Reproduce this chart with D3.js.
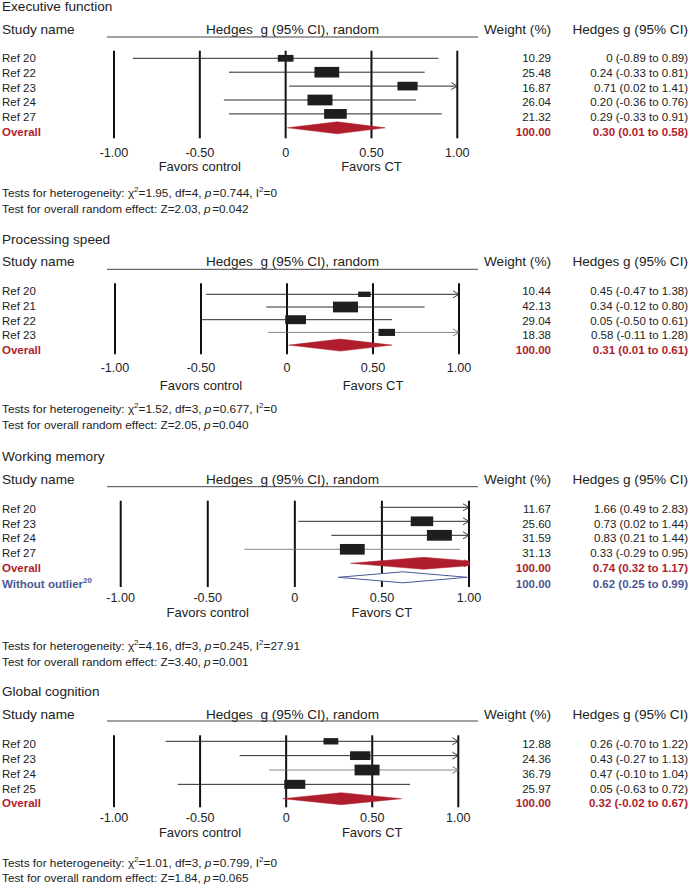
<!DOCTYPE html>
<html><head><meta charset="utf-8">
<script src="https://cdn.jsdelivr.net/npm/d3@7"></script>
<style>
html,body{margin:0;padding:0;background:#fff;}
svg{display:block;font-family:"Liberation Sans",Arial,Helvetica,sans-serif;}
</style></head>
<body>
<svg id="chart" width="690" height="886"></svg>
<script>
// ---------------- DATA ----------------
const panelTitles = ["Executive function", "Processing speed", "Working memory", "Global cognition"];

const efStudies = ["Ref 20", "Ref 22", "Ref 23", "Ref 24", "Ref 27"];
const efWeight  = [10.29, 25.48, 16.87, 26.04, 21.32];
const efG       = [0, 0.24, 0.71, 0.20, 0.29];
const efLo      = [-0.89, -0.33, 0.02, -0.36, -0.33];
const efHi      = [0.89, 0.81, 1.41, 0.76, 0.91];

const psStudies = ["Ref 20", "Ref 21", "Ref 22", "Ref 23"];
const psWeight  = [10.44, 42.13, 29.04, 18.38];
const psG       = [0.45, 0.34, 0.05, 0.58];
const psLo      = [-0.47, -0.12, -0.50, -0.11];
const psHi      = [1.38, 0.80, 0.61, 1.28];

const wmStudies = ["Ref 20", "Ref 23", "Ref 24", "Ref 27"];
const wmWeight  = [11.67, 25.60, 31.59, 31.13];
const wmG       = [1.66, 0.73, 0.83, 0.33];
const wmLo      = [0.49, 0.02, 0.21, -0.29];
const wmHi      = [2.83, 1.44, 1.44, 0.95];

const gcStudies = ["Ref 20", "Ref 23", "Ref 24", "Ref 25"];
const gcWeight  = [12.88, 24.36, 36.79, 25.97];
const gcG       = [0.26, 0.43, 0.47, 0.05];
const gcLo      = [-0.70, -0.27, -0.10, -0.63];
const gcHi      = [1.22, 1.13, 1.04, 0.72];

const overallG  = [0.30, 0.31, 0.74, 0.32];
const overallLo = [0.01, 0.01, 0.32, -0.02];
const overallHi = [0.58, 0.61, 1.17, 0.67];

const outlierG = 0.62, outlierLo = 0.25, outlierHi = 0.99, outlierWeight = 100.00;

const hetChi2 = ["1.95", "1.52", "4.16", "1.01"];
const hetDf   = ["4", "3", "3", "3"];
const hetP    = ["0.744", "0.677", "0.245", "0.799"];
const hetI2   = ["0", "0", "27.91", "0"];
const effZ    = ["2.03", "2.05", "3.40", "1.84"];
const effP    = ["0.042", "0.040", "0.001", "0.065"];

const tickValues = [-1, -0.5, 0, 0.5, 1];
const tickLabels = ["-1.00", "-0.50", "0", "0.50", "1.00"];

// ---------------- LAYOUT ----------------
const RED = "#b01e2d", BLUE = "#4a5896", INK = "#222";
const FONT_HEAD = 13.6, FONT_ROW = 11.5, FONT_TICK = 12.6, FONT_TEST = 11.8;

const layout = [
  {title:6,   header:29.3, hline:37,    lab:[58, 14.8],    mark:[58.3, 13.9],  vTop:50.7,  vBot:138.3, tickY:152.7, favY:166.7, testY:[192.7, 209.3], xr:[114, 457.3], light:[]},
  {title:239.3, header:261.7, hline:269.3, lab:[291, 14.75], mark:[294.3, 12.7], vTop:283.3, vBot:354.3, tickY:368.3, favY:385,   testY:[408.5, 425],  xr:[115, 459], light:[3]},
  {title:456, header:479,  hline:486.7, lab:[508.7, 14.8], mark:[507.3, 14],   vTop:500.7, vBot:587,   tickY:598.3, favY:612.3, testY:[646, 661.5],  xr:[120.7, 469], light:[3]},
  {title:691.7, header:714, hline:721,  lab:[744.3, 14.75], mark:[741.3, 14.35], vTop:735.3, vBot:807.3, tickY:817.7, favY:832.7, testY:[863.3, 878.3], xr:[114, 458.3], light:[2]}
];

const panels = [
  {studies: efStudies, w: efWeight, g: efG, lo: efLo, hi: efHi},
  {studies: psStudies, w: psWeight, g: psG, lo: psLo, hi: psHi},
  {studies: wmStudies, w: wmWeight, g: wmG, lo: wmLo, hi: wmHi},
  {studies: gcStudies, w: gcWeight, g: gcG, lo: gcLo, hi: gcHi}
];

const svg = d3.select("#chart");
const fmt = v => v === 0 ? "0" : v.toFixed(2);
const ciText = (g, lo, hi) => `${fmt(g)} (${fmt(lo)} to ${fmt(hi)})`;

function txt(g, x, y, s, opts = {}) {
  const t = g.append("text").attr("x", x).attr("y", y)
    .attr("dominant-baseline", "central")
    .attr("font-size", opts.size || FONT_ROW)
    .attr("fill", opts.fill || INK)
    .attr("text-anchor", opts.anchor || "start")
    .text(s);
  if (opts.bold) t.attr("font-weight", "bold");
  if (opts.pre) t.style("white-space", "pre");
  return t;
}

function chevron(g, x, y, color) {
  g.append("path")
    .attr("d", `M${x - 6},${y - 3.5}L${x},${y}L${x - 6},${y + 3.5}`)
    .attr("fill", "none").attr("stroke", color).attr("stroke-width", 0.9);
}

panels.forEach((p, pi) => {
  const L = layout[pi];
  const g = svg.append("g");
  const x = d3.scaleLinear().domain([-1, 1]).range(L.xr);
  const n = p.studies.length;
  const labY = d3.scaleLinear().domain([0, 1]).range([L.lab[0], L.lab[0] + L.lab[1]]);
  const markY = d3.scaleLinear().domain([0, 1]).range([L.mark[0], L.mark[0] + L.mark[1]]);
  const maxW = d3.max(p.w);
  const boxW = d3.scaleSqrt().domain([0, maxW]).range([0, 25]);

  // Title & headers
  txt(g, 2, L.title, panelTitles[pi], {size: FONT_HEAD});
  txt(g, 2, L.header, "Study name", {size: FONT_HEAD});
  g.append("line").attr("x1", 107).attr("x2", 478).attr("y1", L.hline).attr("y2", L.hline)
    .attr("stroke", "#444").attr("stroke-width", 1);
  txt(g, 292.5, L.header, "Hedges  g (95% CI), random", {size: FONT_HEAD, anchor: "middle", pre: true});
  txt(g, 551, L.header, "Weight (%)", {size: FONT_HEAD, anchor: "end"});
  txt(g, 688, L.header, "Hedges g (95% CI)", {size: FONT_HEAD, anchor: "end"});

  // vertical reference lines
  g.selectAll("line.ref").data(tickValues).join("line")
    .attr("class", "ref")
    .attr("x1", d => x(d)).attr("x2", d => x(d))
    .attr("y1", L.vTop).attr("y2", L.vBot)
    .attr("stroke", "#111").attr("stroke-width", 2);

  // tick labels
  tickValues.forEach((t, i) => txt(g, x(t), L.tickY, tickLabels[i], {size: FONT_TICK, anchor: "middle"}));
  txt(g, x(-0.5), L.favY, "Favors control", {size: 13, anchor: "middle"});
  txt(g, x(0.5), L.favY, "Favors CT", {size: 13, anchor: "middle"});

  // studies
  p.studies.forEach((s, i) => {
    const yl = labY(i), ym = markY(i);
    const lineCol = L.light.includes(i) ? "#6a6a6a" : "#2a2a2a";
    const lineW = L.light.includes(i) ? 0.8 : 1;
    txt(g, 2, yl, s, {size: FONT_ROW});
    txt(g, 551, yl, p.w[i].toFixed(2), {size: FONT_ROW, anchor: "end"});
    txt(g, 688, yl, ciText(p.g[i], p.lo[i], p.hi[i]), {size: FONT_ROW, anchor: "end"});
    const a = Math.max(p.lo[i], -1), b = Math.min(p.hi[i], 1);
    g.append("line").attr("x1", x(a)).attr("x2", x(b)).attr("y1", ym).attr("y2", ym)
      .attr("stroke", lineCol).attr("stroke-width", lineW);
    if (p.hi[i] > 1) chevron(g, x(1), ym, lineCol);
    if (p.g[i] >= -1 && p.g[i] <= 1) {
      const bw = boxW(p.w[i]), bh = bw * 0.43;
      g.append("rect").attr("x", x(p.g[i]) - bw / 2).attr("y", ym - bh / 2)
        .attr("width", bw).attr("height", bh).attr("fill", "#1e1e1e");
    }
  });

  // overall
  const yo = labY(n), ymo = markY(n), hh = 6;
  txt(g, 2, yo, "Overall", {size: FONT_ROW, bold: true, fill: RED});
  txt(g, 551, yo, "100.00", {size: FONT_ROW, bold: true, fill: RED, anchor: "end"});
  txt(g, 688, yo, ciText(overallG[pi], overallLo[pi], overallHi[pi]), {size: FONT_ROW, bold: true, fill: RED, anchor: "end"});
  const og = overallG[pi], ol = overallLo[pi], oh = overallHi[pi];
  let pts;
  if (oh > 1) {
    const f = (oh - 1) / (oh - og);
    pts = [[x(ol), ymo], [x(og), ymo - hh], [x(1), ymo - hh * f], [x(1), ymo + hh * f], [x(og), ymo + hh]];
  } else {
    pts = [[x(ol), ymo], [x(og), ymo - hh], [x(oh), ymo], [x(og), ymo + hh]];
  }
  g.append("polygon").attr("points", pts.map(d => d.join(",")).join(" "))
    .attr("fill", RED).attr("stroke", RED).attr("stroke-width", 0.5);
  if (oh > 1) chevron(g, x(1) + 1, ymo, RED);

  if (pi === 2) {
    const yw = 584.3, ymw = markY(n + 1);
    const t = txt(g, 2, yw, "Without outlier", {size: FONT_ROW, bold: true, fill: BLUE});
    t.append("tspan").attr("font-size", 8).attr("dy", -4).text("20");
    txt(g, 551, yw, outlierWeight.toFixed(2), {size: FONT_ROW, bold: true, fill: BLUE, anchor: "end"});
    txt(g, 688, yw, ciText(outlierG, outlierLo, outlierHi), {size: FONT_ROW, bold: true, fill: BLUE, anchor: "end"});
    const bp = [[x(outlierLo), ymw], [x(outlierG), ymw - 5.5], [x(outlierHi), ymw], [x(outlierG), ymw + 5.5]];
    g.append("polygon").attr("points", bp.map(d => d.join(",")).join(" "))
      .attr("fill", "#fff").attr("stroke", BLUE).attr("stroke-width", 1);
  }

  // tests
  const t1 = g.append("text").attr("x", 2).attr("y", L.testY[0]).attr("dominant-baseline", "central")
    .attr("font-size", FONT_TEST).attr("fill", INK);
  t1.append("tspan").text("Tests for heterogeneity: \u03C7");
  t1.append("tspan").attr("font-size", 8).attr("dy", -4).text("2");
  t1.append("tspan").attr("dy", 4).text(`=${hetChi2[pi]}, df=${hetDf[pi]}, `);
  t1.append("tspan").attr("font-style", "italic").text("p");
  t1.append("tspan").attr("dx", 1.5).text(`=${hetP[pi]}, I`);
  t1.append("tspan").attr("font-size", 8).attr("dy", -4).text("2");
  t1.append("tspan").attr("dy", 4).text(`=${hetI2[pi]}`);

  const t2 = g.append("text").attr("x", 2).attr("y", L.testY[1]).attr("dominant-baseline", "central")
    .attr("font-size", FONT_TEST).attr("fill", INK);
  t2.append("tspan").text(`Test for overall random effect: Z=${effZ[pi]}, `);
  t2.append("tspan").attr("font-style", "italic").text("p");
  t2.append("tspan").attr("dx", 1.5).text(`=${effP[pi]}`);
});
</script>
</body></html>
